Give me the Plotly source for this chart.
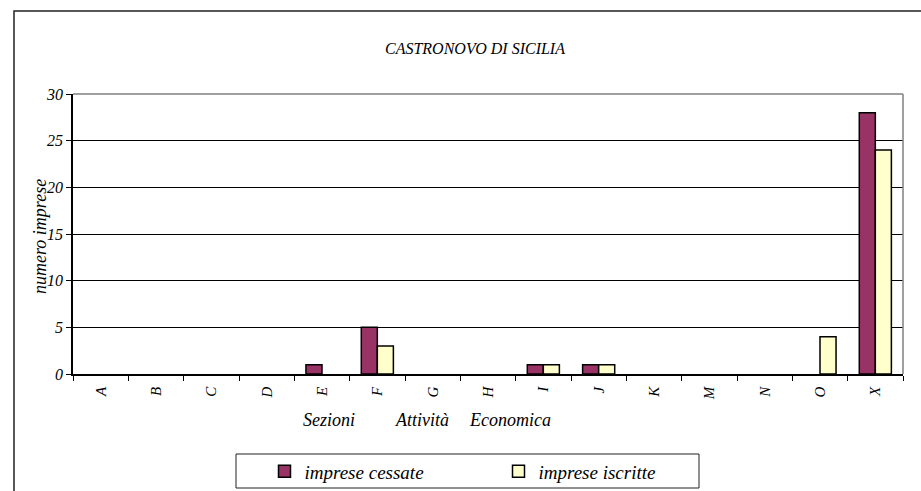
import plotly.graph_objects as go

categories = ["A", "B", "C", "D", "E", "F", "G", "H", "I", "J", "K", "M", "N", "O", "X"]
cessate = [0, 0, 0, 0, 1, 5, 0, 0, 1, 1, 0, 0, 0, 0, 28]
iscritte = [0, 0, 0, 0, 0, 3, 0, 0, 1, 1, 0, 0, 0, 4, 24]
y_ticks = [0, 5, 10, 15, 20, 25, 30]
title_text = "CASTRONOVO DI SICILIA"
y_title = "numero imprese"
x_title_parts = ["Sezioni", "Attività", "Economica"]

FONT = "Liberation Serif"
W, H = 921, 491
L, R, T, B = 73, 903, 94, 374


def px(x):
    return (x - L) / (R - L)


def py(y):
    return (B - y) / (B - T)


def hide_zero(vals):
    return [v if v != 0 else None for v in vals]


fig = go.Figure()
fig.add_trace(go.Bar(
    x=categories, y=hide_zero(cessate), name="imprese cessate",
    marker=dict(color="#993366", line=dict(color="black", width=1.5)),
))
fig.add_trace(go.Bar(
    x=categories, y=hide_zero(iscritte), name="imprese iscritte",
    marker=dict(color="#FFFFCC", line=dict(color="black", width=1.5)),
))

fig.update_layout(
    width=W, height=H,
    margin=dict(l=L, r=W - R, t=T, b=H - B, pad=0, autoexpand=False),
    paper_bgcolor="white", plot_bgcolor="white",
    barmode="group", bargap=0.42, bargroupgap=0,
    font=dict(family=FONT, size=15, color="black", style="italic"),
    showlegend=True,
    legend=dict(
        orientation="h", x=px(264.5), xanchor="left", y=py(471.5), yanchor="middle",
        font=dict(family=FONT, size=19, color="black", style="italic"),
        entrywidth=189, entrywidthmode="pixels",
        bgcolor="rgba(0,0,0,0)", borderwidth=0,
    ),
    xaxis=dict(
        type="category", categoryorder="array", categoryarray=categories,
        showline=True, linecolor="black", linewidth=1.5,
        ticks="outside", ticklen=5, tickcolor="black", tickwidth=1,
        tickson="boundaries", tickangle=-90, showgrid=False,
        tickfont=dict(family=FONT, size=15, style="italic"),
        ticklabelstandoff=5,
        fixedrange=True, automargin=False,
    ),
    yaxis=dict(
        range=[0, 30], tickvals=y_ticks, showline=True, linecolor="black", linewidth=1.5,
        ticks="outside", ticklen=5, tickcolor="black", tickwidth=1,
        showgrid=True, gridcolor="black", gridwidth=1, zeroline=False,
        tickfont=dict(family=FONT, size=16, style="italic"),
        fixedrange=True, automargin=False,
    ),
)

shapes = [
    dict(type="rect", xref="paper", yref="paper", x0=px(14), x1=px(935), y0=py(505), y1=py(11),
         line=dict(color="#222222", width=1.5), layer="below"),
    dict(type="line", xref="paper", yref="paper", x0=0, x1=1, y0=1, y1=1,
         line=dict(color="#808080", width=1.5)),
    dict(type="line", xref="paper", yref="paper", x0=1, x1=1, y0=0, y1=1,
         line=dict(color="#808080", width=1.5)),
    dict(type="rect", xref="paper", yref="paper", x0=px(236), x1=px(699), y0=py(488), y1=py(454),
         line=dict(color="#222222", width=1)),
]
fig.update_layout(shapes=shapes)

annotations = [
    dict(text=title_text, xref="paper", yref="paper", x=px(474.5), y=py(49),
         xanchor="center", yanchor="middle", showarrow=False,
         font=dict(family=FONT, size=16, style="italic", color="black")),
    dict(text=y_title, xref="paper", yref="paper", x=px(40), y=py(237),
         xanchor="center", yanchor="middle", showarrow=False, textangle=-90,
         font=dict(family=FONT, size=18, style="italic", color="black")),
]
x_lefts = [301, 393, 467]
for t, xl in zip(x_title_parts, x_lefts):
    annotations.append(dict(text=t, xref="paper", yref="paper", x=px(xl), y=py(420),
                            xanchor="left", yanchor="middle", showarrow=False,
                            font=dict(family=FONT, size=18, style="italic", color="black")))
fig.update_layout(annotations=annotations)

fig.write_html("out.html", config={"displayModeBar": False},
               post_script="document.body.style.margin='0';document.body.style.overflow='hidden';")
